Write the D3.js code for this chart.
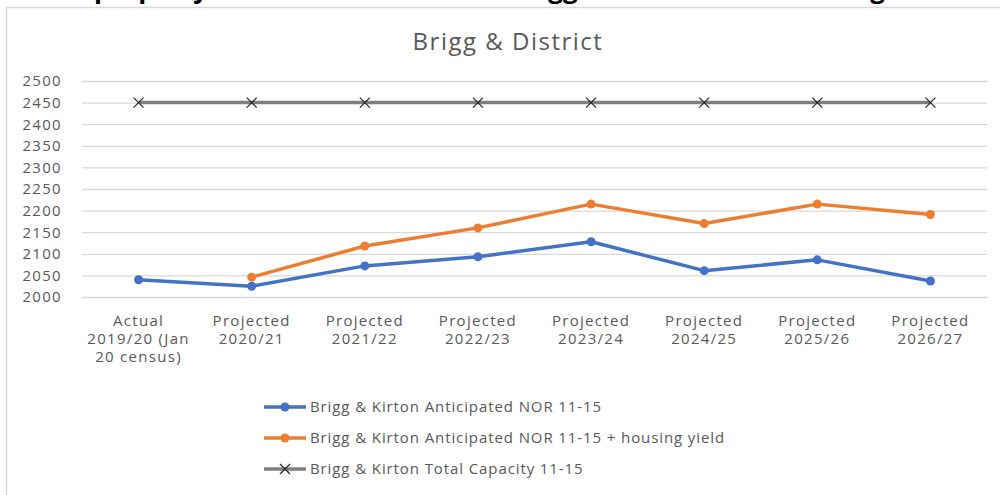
<!DOCTYPE html>
<html>
<head>
<meta charset="utf-8">
<script src="https://cdn.jsdelivr.net/npm/d3@7"></script>
<style>
  body { margin: 0; background: #fff; }
  text { font-family: "Open Sans", "DejaVu Sans", sans-serif; fill: #595959; }
</style>
</head>
<body>
<div id="chart"></div>
<script>
// chart data
const categories = ["Actual|2019/20 (Jan|20 census)", "Projected|2020/21", "Projected|2021/22",
  "Projected|2022/23", "Projected|2023/24", "Projected|2024/25", "Projected|2025/26", "Projected|2026/27"];
const norValues = [2040, 2025, 2072, 2093, 2128, 2061, 2086, 2037];
const housingValues = [null, 2046, 2118, 2160, 2215, 2170, 2215, 2191];
const capacityValues = [2450, 2450, 2450, 2450, 2450, 2450, 2450, 2450];
const yTicks = [2000, 2050, 2100, 2150, 2200, 2250, 2300, 2350, 2400, 2450, 2500];
const seriesNames = ["Brigg & Kirton Anticipated NOR 11-15",
  "Brigg & Kirton Anticipated NOR 11-15 + housing yield",
  "Brigg & Kirton Total Capacity 11-15"];

const width = 1000, height = 495;
const margin = {top: 81, left: 82, right: 13, bottom: 198};

const svg = d3.select("#chart").append("svg")
    .attr("width", width)
    .attr("height", height);

// heading of the page, cut off above the chart
const heading = [{t: "property", x: 94}, {t: "Brigg", x: 511}, {t: "housing", x: 782}];
svg.selectAll(".heading").data(heading).enter().append("text")
    .attr("class", "heading")
    .attr("x", d => d.x).attr("y", -2)
    .attr("font-size", 26).attr("font-weight", "bold")
    .style("fill", "#000").text(d => d.t);

// chart frame
svg.append("path")
    .attr("d", `M6.5,${height} V7.5 H${width}`)
    .attr("fill", "none")
    .attr("stroke", "#d9d9d9")
    .attr("stroke-width", 1.5);

svg.append("text")
    .attr("x", 508).attr("y", 50)
    .attr("text-anchor", "middle")
    .attr("font-size", 24)
    .attr("letter-spacing", 1.5)
    .text("Brigg & District");

const xScale = d3.scaleBand()
    .domain(d3.range(categories.length))
    .range([margin.left, width - margin.right]);

const yScale = d3.scaleLinear()
    .domain([2000, 2500])
    .range([height - margin.bottom, margin.top]);

const cx = i => xScale(i) + xScale.bandwidth() / 2;

// gridlines + y labels
const yAxis = svg.append("g")
    .attr("transform", `translate(${margin.left},0)`)
    .call(d3.axisLeft(yScale).tickValues(yTicks).tickFormat(d3.format("d"))
      .tickSize(-(width - margin.left - margin.right)).tickPadding(20));
yAxis.select(".domain").remove();
yAxis.selectAll(".tick line").attr("stroke", "#d9d9d9").attr("stroke-width", 1.3);
yAxis.selectAll(".tick text").attr("font-size", 15).attr("letter-spacing", 1.3)
    .attr("font-family", null).style("fill", "#595959");

// x labels
const xLab = svg.append("g").selectAll("text")
    .data(categories)
    .enter().append("text")
    .attr("text-anchor", "middle")
    .attr("font-size", 15)
    .attr("letter-spacing", 1.3);
xLab.each(function(d, i) {
  d3.select(this).selectAll("tspan")
    .data(d.split("|"))
    .enter().append("tspan")
    .attr("x", cx(i))
    .attr("y", (t, j) => 326 + j * 18)
    .text(t => t);
});

const line = d3.line()
    .defined(d => d != null)
    .x((d, i) => cx(i))
    .y(d => yScale(d));

const series = [
  {values: norValues, color: "#4472c4", marker: "circle"},
  {values: housingValues, color: "#ed7d31", marker: "circle"},
  {values: capacityValues, color: "#7f7f7f", marker: "x"}
];

function drawMarker(g, type, color, x, y) {
  if (type === "circle") {
    g.append("circle").attr("cx", x).attr("cy", y).attr("r", 4.5).attr("fill", color);
  } else {
    g.append("path")
      .attr("d", `M${x - 5},${y - 5}L${x + 5},${y + 5}M${x - 5},${y + 5}L${x + 5},${y - 5}`)
      .attr("stroke", "#262626").attr("stroke-width", 1.2);
  }
}

series.forEach(function(s) {
  svg.append("path")
    .datum(s.values)
    .attr("d", line)
    .attr("fill", "none")
    .attr("stroke", s.color)
    .attr("stroke-width", 3.5)
    .attr("stroke-linejoin", "round");
  const g = svg.append("g");
  s.values.forEach(function(v, i) {
    if (v != null) drawMarker(g, s.marker, s.color, cx(i), yScale(v));
  });
});

// legend
series.forEach(function(s, i) {
  const y = 407 + i * 31;
  const g = svg.append("g");
  g.append("line").attr("x1", 264).attr("x2", 306).attr("y1", y).attr("y2", y)
    .attr("stroke", s.color).attr("stroke-width", 3.5);
  drawMarker(g, s.marker, s.color, 285, y);
  g.append("text").attr("x", 310).attr("y", y + 5).attr("font-size", 15)
    .attr("letter-spacing", 0.9).text(seriesNames[i]);
});
</script>
</body>
</html>
